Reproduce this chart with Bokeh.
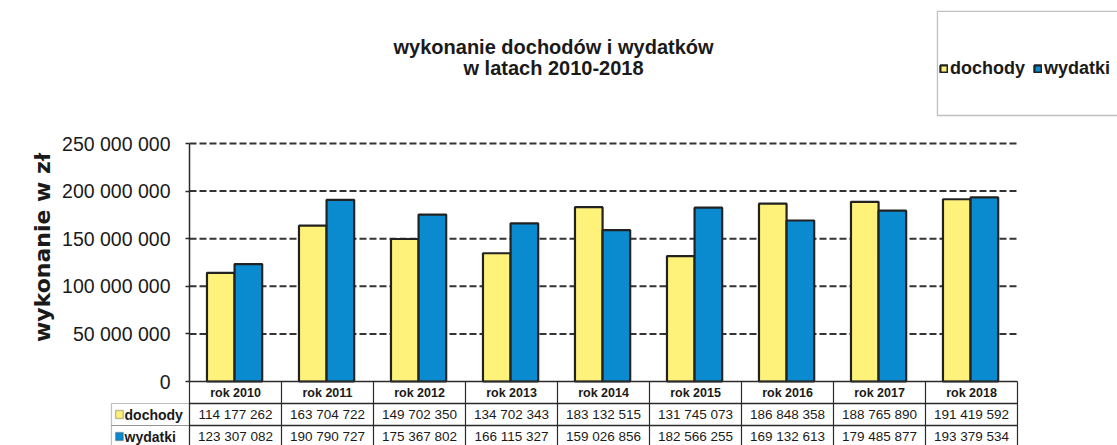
import math
from bokeh.plotting import figure
from bokeh.models import (Range1d, FixedTicker, BoxAnnotation, Label,
                          Legend, LegendItem, ColumnDataSource)
from bokeh.transform import dodge
from bokeh.core.properties import value
from bokeh.embed import file_html
from bokeh.resources import INLINE

# ---------------- data ----------------
years = ["rok 2010", "rok 2011", "rok 2012", "rok 2013", "rok 2014",
         "rok 2015", "rok 2016", "rok 2017", "rok 2018"]
dochody = [114177262, 163704722, 149702350, 134702343, 183132515,
           131745073, 186848358, 188765890, 191419592]
wydatki = [123307082, 190790727, 175367802, 166115327, 159026856,
           182566255, 169132613, 179485877, 193379534]
series_names = ["dochody", "wydatki"]
series_colors = ["#FFF27A", "#0A8BCF"]
y_ticks = [0, 50000000, 100000000, 150000000, 200000000, 250000000]
title_lines = ["wykonanie dochodów i wydatków", "w latach 2010-2018"]
y_label = "wykonanie w zł"


def fmt(v):
    return f"{v:,}".replace(",", " ")


# ---------------- layout constants ----------------
n = len(years)
X_LEFT, X_RIGHT = -2.0543, 10.087      # frame covers whole canvas
Y_BOT, Y_TOP = -67.2e6, 400.2e6
ROW = 23.1e6                           # table row height (data units)
LINE = "#2b2b2b"
FONT = "Liberation Sans"
TXT = "#1a1a1a"

p = figure(x_range=Range1d(X_LEFT, X_RIGHT), y_range=Range1d(Y_BOT, Y_TOP),
           width=1117, height=445,
           min_border=0, x_axis_location=None,
           output_backend="svg", toolbar_location=None)
p.outline_line_color = None
p.background_fill_color = "white"
p.border_fill_color = "white"

# y axis, drawn at the left edge of the bar area
ax = p.yaxis[0]
ax.fixed_location = 0
ax.ticker = FixedTicker(ticks=y_ticks)
ax.bounds = (y_ticks[0], y_ticks[-1])
ax.major_label_overrides = {t: fmt(t) for t in y_ticks}
ax.major_label_text_font = FONT
ax.major_label_text_font_size = "19.5px"
ax.major_label_text_color = TXT
ax.major_label_standoff = 15
ax.major_tick_in = 0
ax.major_tick_out = 4
ax.minor_tick_line_color = None
ax.axis_line_color = LINE
ax.axis_line_width = 1.5
ax.major_tick_line_color = LINE
ax.major_tick_line_width = 1.5

# dashed horizontal grid, limited to the bar area
p.xgrid.visible = False
p.ygrid.visible = False
g = y_ticks[1:]
p.segment(x0=[0] * len(g), x1=[n] * len(g), y0=g, y1=g,
          line_color="#333333", line_width=2, line_dash="7 3")

# bars
xs = [i + 0.5 for i in range(n)]
src = ColumnDataSource(dict(x=xs, years=years, dochody=dochody, wydatki=wydatki))
r1 = p.vbar(x=dodge("x", -0.16), top="dochody", width=0.3, source=src,
            fill_color=series_colors[0], line_color="#222222", line_width=2.2)
r2 = p.vbar(x=dodge("x", 0.14), top="wydatki", width=0.3, source=src,
            fill_color=series_colors[1], line_color="#222222", line_width=2.2)

# ---------------- data table under the chart ----------------
row_lines = [0, -ROW, -2 * ROW]
p.segment(x0=[0] * 3, x1=[n] * 3, y0=row_lines, y1=row_lines,
          line_color=LINE, line_width=1.5)
p.segment(x0=list(range(n + 1)), x1=list(range(n + 1)),
          y0=[0] * (n + 1), y1=[-3 * ROW] * (n + 1),
          line_color=LINE, line_width=1.2)

tsrc = ColumnDataSource(dict(
    x=xs, years=years,
    d_txt=[fmt(v) for v in dochody],
    w_txt=[fmt(v) for v in wydatki],
))
p.text(x="x", y=-0.5 * ROW, text="years", source=tsrc,
       text_font=value(FONT), text_font_size="12.5px", text_font_style="bold",
       text_align="center", text_baseline="middle", text_color=TXT)
p.text(x="x", y=-1.5 * ROW, text="d_txt", source=tsrc,
       text_font=value(FONT), text_font_size="13.5px",
       text_align="center", text_baseline="middle", text_color=TXT)
p.text(x="x", y=-2.5 * ROW, text="w_txt", source=tsrc,
       text_font=value(FONT), text_font_size="13.5px",
       text_align="center", text_baseline="middle", text_color=TXT)

# row-label column
LAB_L = -0.848
for i, (name, col) in enumerate(zip(series_names, series_colors)):
    top = -(i + 1) * ROW
    bot = -(i + 2) * ROW
    p.add_layout(BoxAnnotation(left=LAB_L, right=0, top=top, bottom=bot,
                               fill_alpha=0, line_color=LINE, line_width=1.2))
    mid = (top + bot) / 2
    p.add_layout(BoxAnnotation(left=LAB_L + 0.045, right=LAB_L + 0.128,
                               top=mid + 4.3e6, bottom=mid - 4.3e6,
                               fill_color=col, fill_alpha=1,
                               line_color="#333333", line_width=1.5))
    p.add_layout(Label(x=LAB_L + 0.142, y=mid, text=name,
                       text_font=FONT, text_font_size="14px", text_font_style="bold",
                       text_baseline="middle", text_align="left", text_color=TXT))

# ---------------- titles ----------------
p.add_layout(Label(x=3.957, y=351.4e6, text=title_lines[0], text_font=FONT,
                   text_font_size="20px", text_font_style="bold",
                   text_align="center", text_baseline="middle", text_color=TXT))
p.add_layout(Label(x=3.957, y=329.8e6, text=title_lines[1], text_font=FONT,
                   text_font_size="20px", text_font_style="bold",
                   text_align="center", text_baseline="middle", text_color=TXT))

# y axis title
p.add_layout(Label(x=-1.598, y=140.8e6, text=y_label, angle=math.pi / 2,
                   text_font="DejaVu Sans", text_font_size="22px", text_font_style="bold",
                   text_align="center", text_baseline="middle", text_color=TXT))

# ---------------- legend ----------------
p.add_layout(BoxAnnotation(left=8.13, right=10.5, top=388.7e6, bottom=279.4e6,
                           fill_alpha=0, line_color=LINE, line_width=1.3))
legend = Legend(items=[LegendItem(label=series_names[0], renderers=[r1]),
                       LegendItem(label=series_names[1], renderers=[r2])],
                orientation="horizontal", location=(939, 366),
                label_text_font=FONT, label_text_font_size="18px",
                label_text_font_style="bold", label_text_color=TXT,
                glyph_width=9, glyph_height=9, label_standoff=2, spacing=8,
                padding=4, label_height=22,
                border_line_color=None, background_fill_alpha=0)
p.add_layout(legend)

open("out.html", "w").write(file_html(p, INLINE))
